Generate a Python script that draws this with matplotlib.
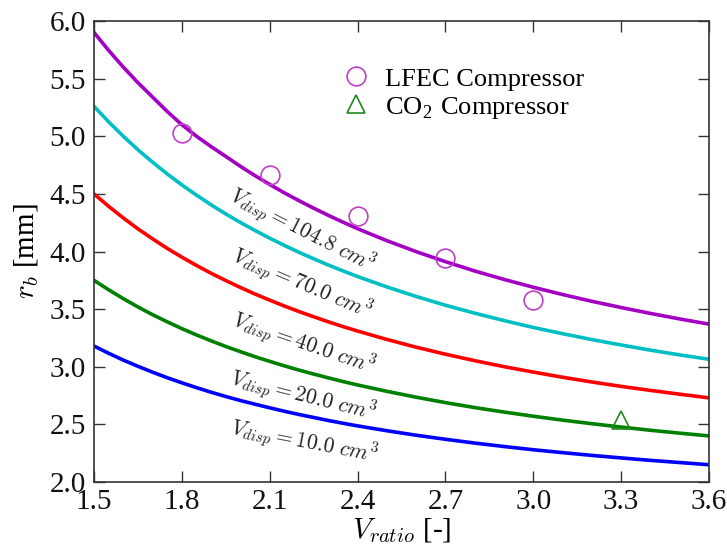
import matplotlib
matplotlib.use('Agg')
from matplotlib import pyplot as plt

plt.rcParams['font.family'] = ['Liberation Serif', 'DejaVu Serif']
plt.rcParams['mathtext.fontset'] = 'cm'

# V_ratio positions the curves were read at (denser where the curves bend most)
v_ratio = [1.5, 1.55, 1.6, 1.65, 1.7, 1.75, 1.8, 1.85, 1.9, 1.95, 2.0, 2.05, 2.1, 2.15,
           2.2, 2.25, 2.3, 2.35, 2.4, 2.5, 2.6, 2.7, 2.8, 2.9, 3.0, 3.1, 3.2, 3.3,
           3.4, 3.5, 3.6]

# r_b [mm]
rb_104_8 = [5.90, 5.745, 5.60, 5.465, 5.34, 5.215, 5.10, 5.00, 4.91, 4.825, 4.739, 4.658,
            4.582, 4.509, 4.441, 4.376, 4.314, 4.255, 4.198, 4.094, 3.999, 3.912, 3.831,
            3.758, 3.690, 3.627, 3.568, 3.514, 3.463, 3.415, 3.370]
rb_70 = [5.26, 5.125, 5.000, 4.883, 4.775, 4.673, 4.578, 4.489, 4.405, 4.326, 4.252, 4.182,
         4.116, 4.053, 3.993, 3.937, 3.883, 3.832, 3.783, 3.693, 3.610, 3.534, 3.465,
         3.401, 3.341, 3.287, 3.236, 3.189, 3.144, 3.103, 3.065]
rb_40 = [4.50, 4.392, 4.291, 4.197, 4.110, 4.027, 3.951, 3.879, 3.811, 3.748, 3.688, 3.631,
         3.578, 3.527, 3.479, 3.434, 3.390, 3.349, 3.310, 3.237, 3.170, 3.109, 3.053,
         3.001, 2.954, 2.909, 2.868, 2.830, 2.795, 2.762, 2.730]
rb_20 = [3.75, 3.668, 3.591, 3.519, 3.452, 3.390, 3.331, 3.276, 3.225, 3.176, 3.131, 3.087,
         3.047, 3.008, 2.971, 2.937, 2.904, 2.872, 2.842, 2.787, 2.736, 2.689, 2.646,
         2.607, 2.571, 2.537, 2.506, 2.477, 2.449, 2.424, 2.400]
rb_10 = [3.18, 3.117, 3.058, 3.004, 2.953, 2.905, 2.861, 2.819, 2.779, 2.742, 2.707, 2.675,
         2.644, 2.614, 2.586, 2.560, 2.534, 2.510, 2.487, 2.445, 2.406, 2.371, 2.338,
         2.308, 2.280, 2.255, 2.231, 2.209, 2.188, 2.169, 2.150]

# measured compressors
lfec_x = [1.8, 2.1, 2.4, 2.7, 3.0]
lfec_rb = [5.03, 4.66, 4.31, 3.94, 3.58]
co2_x = [3.3]
co2_rb = [2.54]

curves = [
    (rb_104_8, '#a400c4', r'$V_{disp} = 104.8\ cm^3$', 2.21, 4.18, -27),
    (rb_70, '#00bfc4', r'$V_{disp} = 70.0\ cm^3$', 2.21, 3.72, -23),
    (rb_40, '#ff0000', r'$V_{disp} = 40.0\ cm^3$', 2.215, 3.20, -19),
    (rb_20, '#008000', r'$V_{disp} = 20.0\ cm^3$', 2.212, 2.745, -14),
    (rb_10, '#0000ff', r'$V_{disp} = 10.0\ cm^3$', 2.218, 2.345, -11),
]

fig = plt.figure(figsize=(7.27, 5.5), dpi=100)
ax = fig.add_axes([0.1293, 0.1236, 0.8459, 0.8382])

for rb, col, txt, tx, ty, rot in curves:
    ax.plot(v_ratio, rb, color=col, lw=2.6)
    ax.text(tx, ty, txt, fontsize=15.5, rotation=rot, rotation_mode='anchor',
            ha='center', va='center', color='#222222')

ax.plot(lfec_x, lfec_rb, 'o', ms=13.5, mfc='none', mec='#c040c8', mew=1.2,
        label='LFEC Compressor')
ax.plot(co2_x, co2_rb, '^', ms=12.5, mfc='none', mec='#208a20', mew=1.2,
        label=r'CO$_\mathregular{2}$ Compressor')

ax.set_xlim(1.5, 3.6)
ax.set_ylim(2.0, 6.0)
ax.set_xticks([1.5, 1.8, 2.1, 2.4, 2.7, 3.0, 3.3, 3.6])
ax.set_yticks([2.0, 2.5, 3.0, 3.5, 4.0, 4.5, 5.0, 5.5, 6.0])
ax.set_xticklabels(['%.1f' % v for v in ax.get_xticks()])
ax.set_yticklabels(['%.1f' % v for v in ax.get_yticks()])
ax.tick_params(direction='in', length=8, width=1, colors='#333333', labelcolor='#111111',
               labelsize=21, top=True, right=True)
ax.tick_params(axis='x', pad=5)
ax.tick_params(axis='y', pad=6)
for s in ax.spines.values():
    s.set_linewidth(1.2)
    s.set_color('#333333')

ax.set_xlabel(r'$V_{ratio}$ [-]', fontsize=21, labelpad=1)
ax.set_ylabel(r'$r_b$ [mm]', fontsize=21, labelpad=6)

ax.legend(loc='upper left', bbox_to_anchor=(0.405, 0.90), frameon=False, fontsize=19,
          handlelength=1.0, handletextpad=0.6, labelspacing=0.15, borderpad=0, borderaxespad=0)

fig.savefig('out.png', dpi=100)
